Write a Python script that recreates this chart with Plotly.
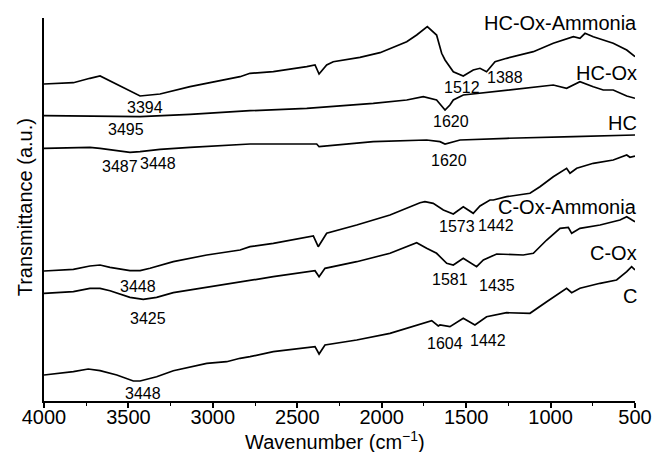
import plotly.graph_objects as go

# ---- data (wavenumber in cm^-1, transmittance in arbitrary offset units) ----
hcoxam_wn = [4000, 3826, 3728, 3668, 3431, 3313, 3135, 2839, 2780, 2642, 2444, 2395, 2371, 2326, 2287,
             2129, 2010, 1852, 1793, 1730, 1675, 1645, 1625, 1596, 1576, 1517, 1458, 1418, 1379, 1329,
             1260, 1102, 984, 865, 826, 796, 747, 629, 549, 500]
hcoxam_t = [317, 318.3, 322.7, 325, 305, 307, 314.3, 324.3, 327.7, 329.3, 334.3, 336, 327, 336, 339.3,
            343.7, 348.3, 359.3, 366, 374.3, 366, 347.7, 341, 334.3, 329.3, 325, 331, 332.7, 329.3, 339.3,
            342.7, 349.3, 357.7, 364.3, 362.7, 367.7, 364.3, 357.7, 351, 344.3]

hcox_wn = [4000, 3629, 3431, 3135, 2780, 2444, 2050, 1852, 1754, 1675, 1625, 1596, 1576, 1517, 1260,
           1063, 984, 905, 826, 747, 688, 629, 549, 500]
hcox_t = [285.3, 284.3, 284.3, 286.7, 290.3, 292.7, 297.7, 301, 304.3, 301, 291, 296, 301, 306, 311,
          314.3, 316, 312.7, 319.3, 314.3, 311, 311, 305, 302.7]

hc_wn = [4000, 3728, 3668, 3491, 3431, 3313, 3135, 2839, 2780, 2385, 2371, 2050, 1734, 1655, 1625,
         1536, 1260, 865, 500]
hc_t = [252.7, 253.7, 252.7, 248.7, 249.3, 251.7, 253.7, 256, 257, 257, 254.3, 259.3, 261, 259.3, 257,
        261, 262.7, 264.3, 266]

coxam_wn = [4000, 3826, 3728, 3668, 3609, 3491, 3431, 3372, 3234, 3036, 2839, 2780, 2642, 2405, 2376,
            2346, 2326, 2148, 1951, 1773, 1744, 1695, 1655, 1635, 1576, 1517, 1458, 1418, 1359, 1339,
            1260, 1122, 1063, 984, 905, 885, 845, 747, 629, 549, 530, 500]
coxam_t = [130, 131.7, 135, 136, 133.7, 130.3, 130.3, 132.7, 139.3, 146, 151, 154.3, 157.7, 165, 154.3,
           162.7, 167.7, 176, 186, 198.3, 199.3, 197.7, 192.7, 191, 187, 194.3, 187.7, 195, 201, 201,
           204.3, 207.7, 214.3, 224.3, 232.7, 227.7, 232.7, 237.7, 241, 246, 243.7, 245]

cox_wn = [4000, 3826, 3728, 3668, 3609, 3491, 3412, 3333, 3234, 3036, 2839, 2780, 2642, 2395, 2371,
          2336, 2148, 1951, 1852, 1793, 1734, 1675, 1615, 1576, 1517, 1438, 1398, 1319, 1162, 1102,
          1023, 944, 895, 875, 826, 707, 589, 549, 500]
cox_t = [107.7, 109.3, 112.7, 112.7, 110.3, 103.7, 101.7, 103.7, 108.3, 113.7, 119.3, 120.3, 124.3, 130.3, 124.3,
         132.7, 139.3, 147.7, 154.3, 158.3, 152.7, 147.7, 137.7, 136, 142.7, 134.3, 141, 147, 146, 147.7,
         161, 172.7, 173.7, 167.7, 172.7, 176, 181, 184.3, 179.3]

c_wn = [4000, 3826, 3738, 3668, 3569, 3471, 3431, 3333, 3234, 3036, 2918, 2839, 2780, 2642, 2395, 2371,
        2336, 2148, 1951, 1793, 1704, 1665, 1655, 1596, 1517, 1448, 1379, 1260, 1122, 1023, 925, 905,
        875, 826, 707, 609, 549, 520, 500]
c_t = [26, 29.3, 32, 30.3, 26, 20, 20, 24.3, 30.3, 37.7, 39.3, 42.7, 44.3, 49.3, 54.3, 47,
       56, 61, 67.7, 76, 80.3, 75, 76, 74.3, 82.7, 76, 84.3, 88.3, 87.7, 99.3, 110.3, 112.7,
       108.3, 112.7, 117.7, 121, 129.3, 134.3, 131]

series_names = ["HC-Ox-Ammonia", "HC-Ox", "HC", "C-Ox-Ammonia", "C-Ox", "C"]
series_wn = [hcoxam_wn, hcox_wn, hc_wn, coxam_wn, cox_wn, c_wn]
series_t = [hcoxam_t, hcox_t, hc_t, coxam_t, cox_t, c_t]
series_label_y = [378, 328, 278, 194, 148, 105]

peak_labels = ["3394", "1512", "1388", "3495", "1620", "3487", "3448", "1620",
               "3448", "1573", "1442", "3425", "1581", "1435", "3448", "1604", "1442"]
peak_wn = [3402, 1525, 1270, 3514, 1590, 3550, 3325, 1599,
           3446, 1556, 1324, 3387, 1596, 1319, 3412, 1625, 1369]
peak_t = [294, 313.7, 323.7, 272, 279.3, 235, 238, 241,
          115, 175, 176, 82.7, 121.7, 116, 7.7, 57.7, 61]

x_tickvals = [4000, 3500, 3000, 2500, 2000, 1500, 1000, 500]

FONT = "Liberation Sans, Arial, Helvetica, sans-serif"

fig = go.Figure()
for name, wn, t in zip(series_names, series_wn, series_t):
    fig.add_trace(go.Scatter(x=wn, y=t, mode="lines", name=name,
                             line=dict(color="black", width=1.7), showlegend=False))

annotations = []
for name, ly in zip(series_names, series_label_y):
    annotations.append(dict(x=500, y=ly, xref="x", yref="y", text=name, showarrow=False,
                            xanchor="right", xshift=4, font=dict(size=20, color="black", family=FONT)))
for txt, wx, ty in zip(peak_labels, peak_wn, peak_t):
    annotations.append(dict(x=wx, y=ty, xref="x", yref="y", text=txt, showarrow=False,
                            font=dict(size=16, color="black", family=FONT)))
# axis titles
annotations.append(dict(x=0.492, y=-0.102, xref="paper", yref="paper", showarrow=False,
                        text="Wavenumber (cm<sup>−1</sup>)", xanchor="center", yanchor="middle",
                        font=dict(size=20, color="black", family=FONT)))
annotations.append(dict(x=-0.032, y=0.506, xref="paper", yref="paper", showarrow=False,
                        text="Transmittance (a.u.)", textangle=-90, xanchor="center", yanchor="middle",
                        font=dict(size=20, color="black", family=FONT)))

fig.update_layout(
    width=652, height=452,
    margin=dict(l=44, r=17, t=18, b=51),
    paper_bgcolor="white", plot_bgcolor="white",
    font=dict(family=FONT, color="black", size=20),
    annotations=annotations,
    xaxis=dict(range=[4000, 500], tickvals=x_tickvals, showgrid=False, zeroline=False,
               automargin=False,
               showline=True, linecolor="black", linewidth=1.5,
               ticks="outside", ticklen=5, tickwidth=1.5, tickcolor="black",
               ticklabelstandoff=-8,
               tickfont=dict(size=20, family=FONT),
               minor=dict(dtick=250, ticks="outside", ticklen=3, tickwidth=1.2, tickcolor="black")),
    yaxis=dict(range=[0, 383], showgrid=False, zeroline=False, showticklabels=False,
               automargin=False,
               showline=True, linecolor="black", linewidth=1.5, ticks=""),
)

fig.write_html("out.html", config={"displayModeBar": False},
               post_script="document.body.style.margin='0';document.body.style.overflow='hidden';")
